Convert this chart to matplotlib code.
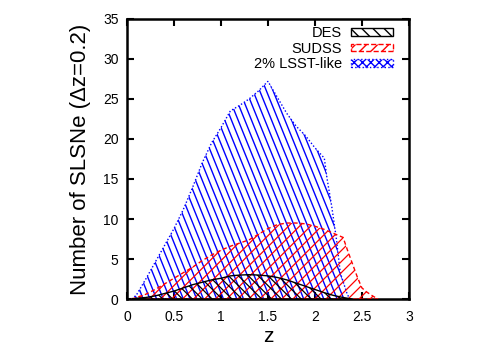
import numpy as np
import matplotlib
matplotlib.use("Agg")
import matplotlib.pyplot as plt
import matplotlib.patches as mpatches

plt.rcParams["font.family"] = ["Liberation Sans", "DejaVu Sans"]

# LSST-like (2%)
z_lsst = [0.05, 0.1, 0.2, 0.3, 0.4, 0.5, 0.6, 0.7, 0.8, 0.9, 1.0, 1.1, 1.2, 1.3, 1.4,
          1.5, 1.6, 1.7, 1.8, 1.9, 2.0, 2.1, 2.13, 2.18, 2.23, 2.27, 2.34, 2.37]
n_lsst = [0.0, 0.5, 2.5, 4.6, 6.7, 8.8, 11.2, 14.0, 17.0, 19.5, 21.4, 23.5, 24.2, 25.0, 26.0,
          27.2, 25.2, 23.2, 21.6, 20.4, 18.9, 17.6, 15.0, 11.5, 7.4, 3.3, 0.75, 0.0]

# SUDSS
z_sudss = [0.05, 0.1, 0.2, 0.3, 0.4, 0.5, 0.6, 0.7, 0.8, 0.9, 1.0, 1.1, 1.2, 1.3, 1.4,
           1.5, 1.6, 1.7, 1.8, 1.9, 2.0, 2.1, 2.2, 2.3, 2.35, 2.4, 2.45, 2.5, 2.55, 2.6, 2.67]
n_sudss = [0.0, 0.2, 0.6, 1.2, 1.9, 2.6, 3.3, 4.0, 4.8, 5.5, 6.1, 6.6, 7.0, 7.4, 8.1,
           8.8, 9.3, 9.5, 9.5, 9.4, 9.1, 8.7, 8.2, 7.7, 6.0, 4.4, 2.8, 1.4, 0.9, 0.5, 0.0]

# DES
z_des = [0.05, 0.1, 0.2, 0.3, 0.4, 0.5, 0.6, 0.7, 0.8, 0.9, 1.0, 1.1, 1.2, 1.3, 1.4, 1.5,
         1.6, 1.7, 1.8, 1.9, 2.0, 2.1, 2.2, 2.3, 2.4]
n_des = [0.0, 0.1, 0.2, 0.4, 0.7, 1.0, 1.4, 1.8, 2.1, 2.4, 2.6, 2.9, 3.0, 3.05, 3.0, 2.9,
         2.7, 2.4, 2.0, 1.6, 1.2, 0.8, 0.45, 0.2, 0.0]


def hatch(ax, patch, angle, spacing, color, lw=1.0):
    # parallel lines in axes pixel space, clipped to the filled patch
    bb = ax.get_window_extent()
    W, H = bb.width, bb.height
    a = np.deg2rad(angle)
    d = np.array([np.cos(a), np.sin(a)])
    nrm = np.array([-np.sin(a), np.cos(a)])
    L = np.hypot(W, H)
    for c in np.arange(-L, L, spacing):
        p0 = np.array([W / 2, H / 2]) + c * nrm - L * d
        p1 = np.array([W / 2, H / 2]) + c * nrm + L * d
        ln, = ax.plot([p0[0] / W, p1[0] / W], [p0[1] / H, p1[1] / H],
                      color=color, lw=lw, transform=ax.transAxes, zorder=patch.get_zorder())
        ln.set_clip_path(patch)


fig = plt.figure(figsize=(4.98, 3.49), dpi=100)
ax = fig.add_axes([0.255, 0.143, 0.566, 0.803])
ax.set_xlim(0, 3)
ax.set_ylim(0, 35)

p_lsst = ax.fill(z_lsst, n_lsst, facecolor="none", edgecolor="blue", lw=1.0, ls=(0, (1, 1.5)), zorder=2)[0]
p_sudss = ax.fill(z_sudss, n_sudss, facecolor="none", edgecolor="red", lw=1.0, ls=(0, (3, 2)), zorder=3)[0]
p_des = ax.fill(z_des, n_des, facecolor="none", edgecolor="black", lw=1.0, zorder=4)[0]

hatch(ax, p_lsst, -68, 6.2, "blue", 1.0)
hatch(ax, p_sudss, 45, 7.8, "red", 0.9)
hatch(ax, p_des, -45, 7.0, "black", 0.9)

handles = [
    mpatches.Patch(facecolor="none", edgecolor="black", hatch="\\\\\\", lw=1.0, label="DES"),
    mpatches.Patch(facecolor="none", edgecolor="red", hatch="///", lw=1.0, ls="--", label="SUDSS"),
    mpatches.Patch(facecolor="none", edgecolor="blue", hatch="xxxx", lw=1.0, ls=":", label="2% LSST-like"),
]
ax.legend(handles=handles, loc="upper right", frameon=False, markerfirst=False,
          fontsize=10.5, handlelength=2.9, handleheight=0.4, handletextpad=0.6,
          labelspacing=0.1, borderaxespad=0.1, bbox_to_anchor=(0.97, 1.0))

ax.set_xticks(np.arange(0, 3.01, 0.5))
ax.set_xticklabels(["0", "0.5", "1", "1.5", "2", "2.5", "3"])
ax.set_yticks(np.arange(0, 36, 5))
ax.tick_params(direction="in", top=True, right=True, length=5, width=1.5, labelsize=10)
ax.tick_params(axis="x", pad=8)
ax.tick_params(axis="y", pad=6)
for s in ax.spines.values():
    s.set_linewidth(1.8)

ax.set_xlabel("z", fontsize=15, labelpad=2)
ax.set_ylabel("Number of SLSNe (\u0394z=0.2)", fontsize=16, labelpad=9)

fig.savefig("out.png", dpi=100)
